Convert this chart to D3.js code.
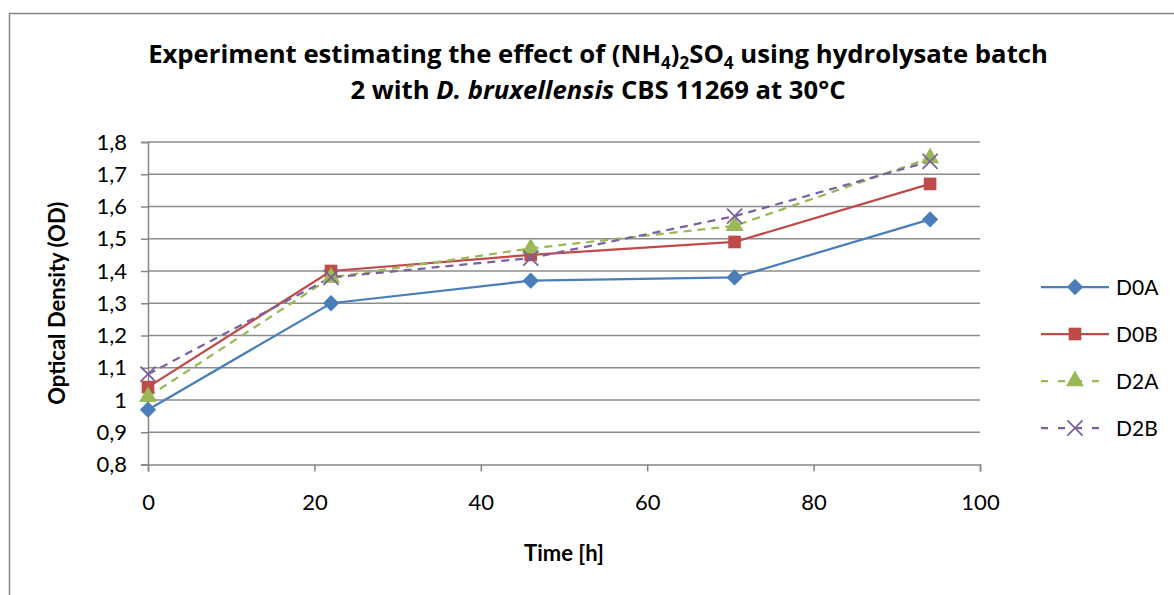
<!DOCTYPE html>
<html>
<head>
<meta charset="utf-8">
<script src="https://cdn.jsdelivr.net/npm/d3@7"></script>
<style>
  body { margin: 0; background: #fff; }
  svg { display: block; font-family: Lato, "Open Sans", sans-serif; }
</style>
</head>
<body>
<div id="chart"></div>
<script>
// Time points [h]
const hours = [0, 22, 46, 70.5, 94];
// OD per series
const d0a = [0.97, 1.30, 1.37, 1.38, 1.56];
const d0b = [1.04, 1.40, 1.45, 1.49, 1.67];
const d2a = [1.01, 1.38, 1.47, 1.54, 1.75];
const d2b = [1.08, 1.38, 1.44, 1.57, 1.74];
const seriesNames = ["D0A", "D0B", "D2A", "D2B"];
const xTicks = [0, 20, 40, 60, 80, 100];
const yTicks = [0.8, 0.9, 1.0, 1.1, 1.2, 1.3, 1.4, 1.5, 1.6, 1.7, 1.8];

const series = [
  {name: seriesNames[0], values: d0a, color: "#4a7ebb", dash: null, symbol: "diamond"},
  {name: seriesNames[1], values: d0b, color: "#be4b48", dash: null, symbol: "square"},
  {name: seriesNames[2], values: d2a, color: "#98b954", dash: "8,6", symbol: "triangle"},
  {name: seriesNames[3], values: d2b, color: "#7d60a0", dash: "8,6", symbol: "cross"}
];

const width = 1174, height = 595;
const margin = {top: 142, right: 194, bottom: 132, left: 148};

const svg = d3.select("#chart").append("svg")
  .attr("width", width)
  .attr("height", height);

// outer chart frame (only top and left visible)
svg.append("path")
  .attr("d", `M9.5,${height} V13.5 H${width}`)
  .attr("fill", "none")
  .attr("stroke", "#868686")
  .attr("stroke-width", 1.5);

const x = d3.scaleLinear().domain([0, 100]).range([margin.left, width - margin.right]);
const y = d3.scaleLinear().domain([0.8, 1.8]).range([height - margin.bottom + 1.5, margin.top]);

const comma = d => d3.format(".1f")(d).replace(".", ",").replace(",0", "");

// gridlines
svg.append("g")
  .selectAll("line")
  .data(yTicks.slice(1))
  .enter().append("line")
  .attr("x1", margin.left).attr("x2", x(100))
  .attr("y1", d => y(d)).attr("y2", d => y(d))
  .attr("stroke", "#8c8c8c")
  .attr("stroke-width", 1.5);

// axes
const yAxis = svg.append("g")
  .attr("transform", `translate(${margin.left},0)`)
  .call(d3.axisLeft(y).tickValues(yTicks).tickFormat(comma).tickSize(7).tickPadding(14));
const xAxis = svg.append("g")
  .attr("transform", `translate(0,${y(0.8)})`)
  .call(d3.axisBottom(x).tickValues(xTicks).tickSize(7).tickPadding(23));

[yAxis, xAxis].forEach(a => {
  a.select(".domain").attr("stroke", "#868686").attr("stroke-width", 1.5);
  a.selectAll(".tick line").attr("stroke", "#868686").attr("stroke-width", 1.5);
  a.selectAll("text").attr("font-size", "22px").attr("fill", "#000")
    .attr("font-family", "Lato, 'Open Sans', sans-serif");
});

const symbols = {
  diamond: d3.symbol().type(d3.symbolDiamond2).size(170),
  square: d3.symbol().type(d3.symbolSquare).size(160),
  triangle: d3.symbol().type(d3.symbolTriangle).size(140),
  cross: d3.symbol().type(d3.symbolX).size(150)
};

const line = d3.line()
  .x((d, i) => x(hours[i]))
  .y(d => y(d));

series.forEach(s => {
  svg.append("path")
    .datum(s.values)
    .attr("d", line)
    .attr("fill", "none")
    .attr("stroke", s.color)
    .attr("stroke-width", 2.25)
    .attr("stroke-dasharray", s.dash);
});

series.forEach(s => {
  svg.append("g").selectAll("path")
    .data(s.values)
    .enter().append("path")
    .attr("transform", (d, i) => `translate(${x(hours[i])},${y(d)})`)
    .attr("d", symbols[s.symbol])
    .attr("fill", s.symbol === "cross" ? "none" : s.color)
    .attr("stroke", s.color)
    .attr("stroke-width", s.symbol === "cross" ? 1.8 : 0);
});

// legend
const legend = svg.append("g");
series.forEach((s, i) => {
  const ly = 287 + i * 47;
  const g = legend.append("g").attr("transform", `translate(0,${ly})`);
  g.append("line")
    .attr("x1", 1041).attr("x2", 1109)
    .attr("stroke", s.color).attr("stroke-width", 2.25)
    .attr("stroke-dasharray", s.dash ? "7,10" : null);
  g.append("path")
    .attr("transform", "translate(1075,0)")
    .attr("d", symbols[s.symbol])
    .attr("fill", s.symbol === "cross" ? "none" : s.color)
    .attr("stroke", s.color)
    .attr("stroke-width", s.symbol === "cross" ? 1.8 : 0);
  g.append("text")
    .attr("x", 1116).attr("y", 0).attr("dy", "0.36em")
    .attr("font-size", "21px")
    .text(s.name);
});

// title
const titleFont = "'Open Sans', Lato, sans-serif";
const title = svg.append("text")
  .attr("x", 598).attr("y", 63)
  .attr("text-anchor", "middle")
  .attr("font-family", titleFont)
  .attr("font-size", "25.7px")
  .attr("font-weight", "bold");
title.append("tspan").text("Experiment estimating the effect of (NH");
title.append("tspan").attr("dy", 6).attr("font-size", "17px").text("4");
title.append("tspan").attr("dy", -6).text(")");
title.append("tspan").attr("dy", 6).attr("font-size", "17px").text("2");
title.append("tspan").attr("dy", -6).text("SO");
title.append("tspan").attr("dy", 6).attr("font-size", "17px").text("4");
title.append("tspan").attr("dy", -6).text(" using hydrolysate batch");

const title2 = svg.append("text")
  .attr("x", 598).attr("y", 99)
  .attr("text-anchor", "middle")
  .attr("font-family", titleFont)
  .attr("font-size", "25.7px")
  .attr("font-weight", "bold");
title2.append("tspan").text("2 with ");
title2.append("tspan").attr("font-style", "italic").text("D. bruxellensis");
title2.append("tspan").text(" CBS 11269 at 30°C");

// axis titles
svg.append("text")
  .attr("x", x(50)).attr("y", 561)
  .attr("text-anchor", "middle")
  .attr("font-size", "22px")
  .attr("font-weight", "bold")
  .text("Time [h]");

svg.append("text")
  .attr("transform", `translate(65,${(y(0.8) + y(1.8)) / 2}) rotate(-90)`)
  .attr("text-anchor", "middle")
  .attr("font-size", "22px")
  .attr("font-weight", "bold")
  .text("Optical Density (OD)");
</script>
</body>
</html>
